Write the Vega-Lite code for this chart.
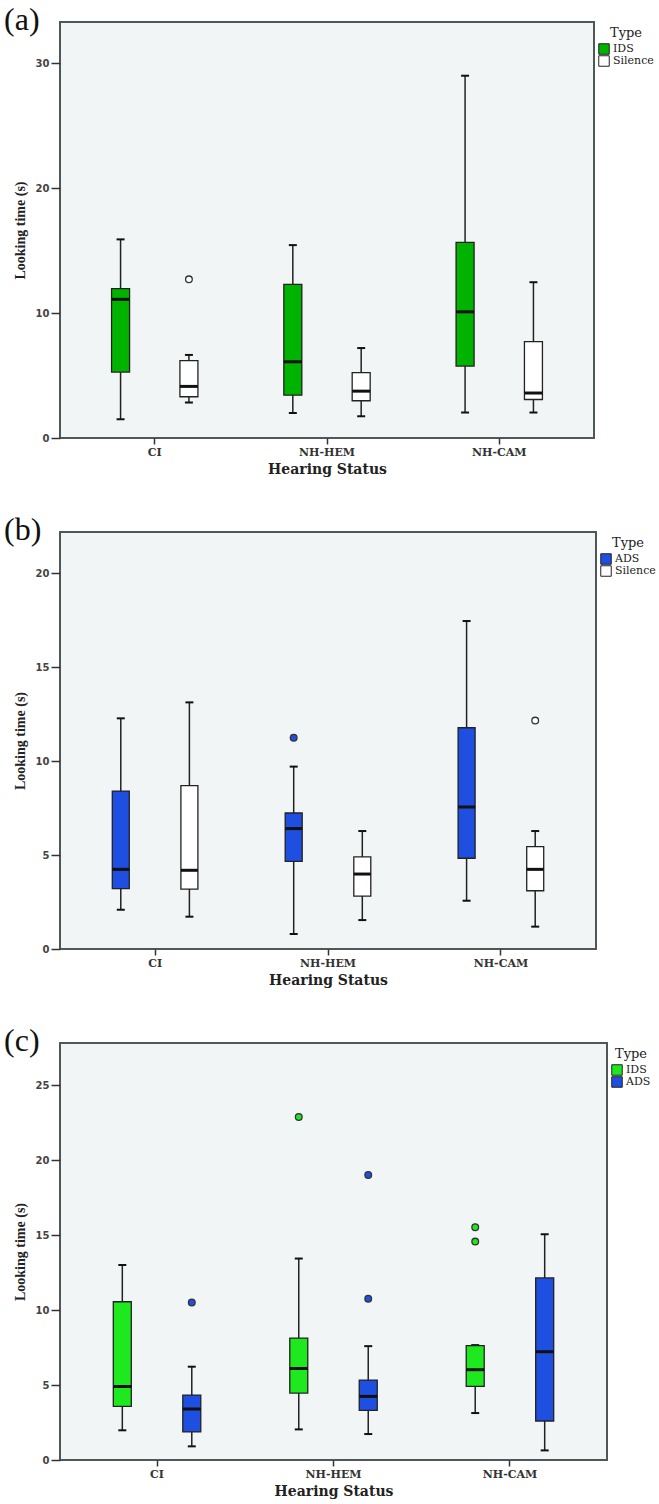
{
  "$schema": "https://vega.github.io/schema/vega-lite/v6.json",
  "padding": {"left": 3, "top": 3, "right": 0, "bottom": 0},
  "background": "white",
  "spacing": 36,
  "resolve": {
    "scale": {"fill": "independent", "xOffset": "independent", "x": "independent", "y": "independent"},
    "legend": {"fill": "independent"}
  },
  "datasets": {
    "boxA": [
      {"group": "CI", "type": "IDS", "lower": 1.5, "q1": 5.28, "median": 11.1, "q3": 11.96, "upper": 15.9},
      {"group": "CI", "type": "Silence", "lower": 2.84, "q1": 3.3, "median": 4.13, "q3": 6.2, "upper": 6.65},
      {"group": "NH-HEM", "type": "IDS", "lower": 2.0, "q1": 3.43, "median": 6.1, "q3": 12.3, "upper": 15.44},
      {"group": "NH-HEM", "type": "Silence", "lower": 1.74, "q1": 2.98, "median": 3.75, "q3": 5.23, "upper": 7.2},
      {"group": "NH-CAM", "type": "IDS", "lower": 2.04, "q1": 5.76, "median": 10.1, "q3": 15.66, "upper": 29.0},
      {"group": "NH-CAM", "type": "Silence", "lower": 2.04, "q1": 3.08, "median": 3.6, "q3": 7.72, "upper": 12.47}
    ],
    "outA": [
      {"group": "CI", "type": "Silence", "value": 12.7}
    ],
    "boxB": [
      {"group": "CI", "type": "ADS", "lower": 2.09, "q1": 3.21, "median": 4.24, "q3": 8.41, "upper": 12.28},
      {"group": "CI", "type": "Silence", "lower": 1.72, "q1": 3.19, "median": 4.19, "q3": 8.7, "upper": 13.13},
      {"group": "NH-HEM", "type": "ADS", "lower": 0.8, "q1": 4.67, "median": 6.41, "q3": 7.24, "upper": 9.71},
      {"group": "NH-HEM", "type": "Silence", "lower": 1.54, "q1": 2.82, "median": 3.99, "q3": 4.9, "upper": 6.28},
      {"group": "NH-CAM", "type": "ADS", "lower": 2.57, "q1": 4.83, "median": 7.56, "q3": 11.78, "upper": 17.46},
      {"group": "NH-CAM", "type": "Silence", "lower": 1.19, "q1": 3.1, "median": 4.24, "q3": 5.45, "upper": 6.28}
    ],
    "outB": [
      {"group": "NH-HEM", "type": "ADS", "value": 11.25},
      {"group": "NH-CAM", "type": "Silence", "value": 12.16}
    ],
    "boxC": [
      {"group": "CI", "type": "IDS", "lower": 1.98, "q1": 3.57, "median": 4.9, "q3": 10.55, "upper": 13.0},
      {"group": "CI", "type": "ADS", "lower": 0.91, "q1": 1.87, "median": 3.4, "q3": 4.33, "upper": 6.22},
      {"group": "NH-HEM", "type": "IDS", "lower": 2.04, "q1": 4.46, "median": 6.1, "q3": 8.13, "upper": 13.43},
      {"group": "NH-HEM", "type": "ADS", "lower": 1.73, "q1": 3.31, "median": 4.24, "q3": 5.33, "upper": 7.59},
      {"group": "NH-CAM", "type": "IDS", "lower": 3.13, "q1": 4.91, "median": 6.02, "q3": 7.62, "upper": 7.66},
      {"group": "NH-CAM", "type": "ADS", "lower": 0.64, "q1": 2.6, "median": 7.22, "q3": 12.14, "upper": 15.05}
    ],
    "outC": [
      {"group": "CI", "type": "ADS", "value": 10.5},
      {"group": "NH-HEM", "type": "IDS", "value": 22.87},
      {"group": "NH-HEM", "type": "ADS", "value": 19.0},
      {"group": "NH-HEM", "type": "ADS", "value": 10.75},
      {"group": "NH-CAM", "type": "IDS", "value": 15.52},
      {"group": "NH-CAM", "type": "IDS", "value": 14.56}
    ]
  },
  "config": {
    "view": {"stroke": "#4f5858", "strokeWidth": 2, "fill": "#f2f5f6"},
    "axis": {
      "grid": false,
      "domain": false,
      "tickColor": "#333333",
      "tickWidth": 1.5,
      "labelColor": "#444444",
      "titleColor": "#222222"
    },
    "axisX": {
      "labelAngle": 0,
      "labelFont": "DejaVu Serif",
      "labelFontWeight": "bold",
      "labelFontSize": 11,
      "labelColor": "#333333",
      "labelPadding": 2,
      "tickSize": 6,
      "titleFont": "DejaVu Serif",
      "titleFontWeight": "bold",
      "titleFontSize": 14,
      "titlePadding": 5
    },
    "axisY": {
      "labelFont": "DejaVu Sans",
      "labelFontWeight": "bold",
      "labelFontSize": 10,
      "labelPadding": 2,
      "tickSize": 9,
      "titleFont": "Liberation Serif",
      "titleFontWeight": "bold",
      "titleFontSize": 14,
      "titlePadding": 8
    },
    "legend": {
      "orient": "right",
      "offset": -1,
      "padding": 5,
      "titleFont": "DejaVu Serif",
      "titleFontSize": 13,
      "titleFontWeight": "normal",
      "titleColor": "#222222",
      "titleAnchor": "middle",
      "titlePadding": 3,
      "labelFont": "DejaVu Serif",
      "labelFontSize": 11,
      "labelColor": "#222222",
      "labelOffset": 3,
      "labelLimit": 120,
      "symbolType": "square",
      "symbolSize": 110,
      "symbolStrokeColor": "#222222",
      "symbolStrokeWidth": 1,
      "rowPadding": 0,
      "clipHeight": 12
    },
    "title": {
      "font": "Liberation Serif",
      "fontSize": 32,
      "fontWeight": "normal",
      "color": "#111111",
      "anchor": "start",
      "frame": "bounds",
      "offset": -15,
      "dx": -9
    }
  },
  "vconcat": [
    {
      "title": "(a)",
      "width": 534,
      "height": 416,
      "encoding": {
        "x": {"field": "group", "type": "nominal", "title": "Hearing Status", "scale": {"domain": ["CI", "NH-HEM", "NH-CAM"], "paddingInner": 0, "paddingOuter": 0.05}},
        "xOffset": {"field": "type", "type": "nominal", "scale": {"domain": ["IDS", "Silence"], "paddingInner": 0, "paddingOuter": 0.26}}
      },
      "layer": [
        {
          "data": {"name": "boxA"},
          "mark": {"type": "rule", "color": "#222222", "strokeWidth": 1.5},
          "encoding": {
            "y": {"field": "lower", "type": "quantitative", "title": "Looking time (s)", "scale": {"domain": [0, 33.3], "nice": false}, "axis": {"values": [0, 10, 20, 30]}},
            "y2": {"field": "upper"}
          }
        },
        {
          "data": {"name": "boxA"},
          "mark": {"type": "tick", "color": "#111111", "size": 8, "thickness": 2, "opacity": 1},
          "encoding": {"y": {"field": "lower", "type": "quantitative"}}
        },
        {
          "data": {"name": "boxA"},
          "mark": {"type": "tick", "color": "#111111", "size": 8, "thickness": 2, "opacity": 1},
          "encoding": {"y": {"field": "upper", "type": "quantitative"}}
        },
        {
          "data": {"name": "boxA"},
          "mark": {"type": "bar", "size": 18, "stroke": "#222222", "strokeWidth": 1.3},
          "encoding": {
            "y": {"field": "q1", "type": "quantitative"},
            "y2": {"field": "q3"},
            "fill": {"field": "type", "type": "nominal", "title": "Type", "scale": {"domain": ["IDS", "Silence"], "range": ["#00b300", "#ffffff"]}}
          }
        },
        {
          "data": {"name": "boxA"},
          "mark": {"type": "tick", "color": "#111111", "size": 18, "thickness": 3, "opacity": 1},
          "encoding": {"y": {"field": "median", "type": "quantitative"}}
        },
        {
          "data": {"name": "outA"},
          "mark": {"type": "point", "shape": "circle", "size": 45, "filled": true, "stroke": "#333333", "strokeWidth": 1.3, "opacity": 1},
          "encoding": {
            "y": {"field": "value", "type": "quantitative"},
            "fill": {"field": "type", "type": "nominal"}
          }
        }
      ]
    },
    {
      "title": "(b)",
      "width": 536,
      "height": 417,
      "encoding": {
        "x": {"field": "group", "type": "nominal", "title": "Hearing Status", "scale": {"domain": ["CI", "NH-HEM", "NH-CAM"], "paddingInner": 0, "paddingOuter": 0.05}},
        "xOffset": {"field": "type", "type": "nominal", "scale": {"domain": ["ADS", "Silence"], "paddingInner": 0, "paddingOuter": 0.26}}
      },
      "layer": [
        {
          "data": {"name": "boxB"},
          "mark": {"type": "rule", "color": "#222222", "strokeWidth": 1.5},
          "encoding": {
            "y": {"field": "lower", "type": "quantitative", "title": "Looking time (s)", "scale": {"domain": [0, 22.2], "nice": false}, "axis": {"values": [0, 5, 10, 15, 20]}},
            "y2": {"field": "upper"}
          }
        },
        {
          "data": {"name": "boxB"},
          "mark": {"type": "tick", "color": "#111111", "size": 8, "thickness": 2, "opacity": 1},
          "encoding": {"y": {"field": "lower", "type": "quantitative"}}
        },
        {
          "data": {"name": "boxB"},
          "mark": {"type": "tick", "color": "#111111", "size": 8, "thickness": 2, "opacity": 1},
          "encoding": {"y": {"field": "upper", "type": "quantitative"}}
        },
        {
          "data": {"name": "boxB"},
          "mark": {"type": "bar", "size": 17, "stroke": "#222222", "strokeWidth": 1.3},
          "encoding": {
            "y": {"field": "q1", "type": "quantitative"},
            "y2": {"field": "q3"},
            "fill": {"field": "type", "type": "nominal", "title": "Type", "scale": {"domain": ["ADS", "Silence"], "range": ["#1f4fe0", "#ffffff"]}}
          }
        },
        {
          "data": {"name": "boxB"},
          "mark": {"type": "tick", "color": "#111111", "size": 17, "thickness": 3, "opacity": 1},
          "encoding": {"y": {"field": "median", "type": "quantitative"}}
        },
        {
          "data": {"name": "outB"},
          "mark": {"type": "point", "shape": "circle", "size": 45, "filled": true, "stroke": "#333333", "strokeWidth": 1.3, "opacity": 1},
          "encoding": {
            "y": {"field": "value", "type": "quantitative"},
            "fill": {"field": "type", "type": "nominal"}
          }
        }
      ]
    },
    {
      "title": "(c)",
      "width": 547,
      "height": 417,
      "encoding": {
        "x": {"field": "group", "type": "nominal", "title": "Hearing Status", "scale": {"domain": ["CI", "NH-HEM", "NH-CAM"], "paddingInner": 0, "paddingOuter": 0.05}},
        "xOffset": {"field": "type", "type": "nominal", "scale": {"domain": ["IDS", "ADS"], "paddingInner": 0, "paddingOuter": 0.27}}
      },
      "layer": [
        {
          "data": {"name": "boxC"},
          "mark": {"type": "rule", "color": "#222222", "strokeWidth": 1.5},
          "encoding": {
            "y": {"field": "lower", "type": "quantitative", "title": "Looking time (s)", "scale": {"domain": [0, 27.8], "nice": false}, "axis": {"values": [0, 5, 10, 15, 20, 25]}},
            "y2": {"field": "upper"}
          }
        },
        {
          "data": {"name": "boxC"},
          "mark": {"type": "tick", "color": "#111111", "size": 8, "thickness": 2, "opacity": 1},
          "encoding": {"y": {"field": "lower", "type": "quantitative"}}
        },
        {
          "data": {"name": "boxC"},
          "mark": {"type": "tick", "color": "#111111", "size": 8, "thickness": 2, "opacity": 1},
          "encoding": {"y": {"field": "upper", "type": "quantitative"}}
        },
        {
          "data": {"name": "boxC"},
          "mark": {"type": "bar", "size": 18, "stroke": "#222222", "strokeWidth": 1.3},
          "encoding": {
            "y": {"field": "q1", "type": "quantitative"},
            "y2": {"field": "q3"},
            "fill": {"field": "type", "type": "nominal", "title": "Type", "scale": {"domain": ["IDS", "ADS"], "range": ["#1ee81e", "#1f4fe0"]}}
          }
        },
        {
          "data": {"name": "boxC"},
          "mark": {"type": "tick", "color": "#111111", "size": 18, "thickness": 3, "opacity": 1},
          "encoding": {"y": {"field": "median", "type": "quantitative"}}
        },
        {
          "data": {"name": "outC"},
          "mark": {"type": "point", "shape": "circle", "size": 45, "filled": true, "stroke": "#333333", "strokeWidth": 1.3, "opacity": 1},
          "encoding": {
            "y": {"field": "value", "type": "quantitative"},
            "fill": {"field": "type", "type": "nominal"}
          }
        }
      ]
    }
  ]
}
